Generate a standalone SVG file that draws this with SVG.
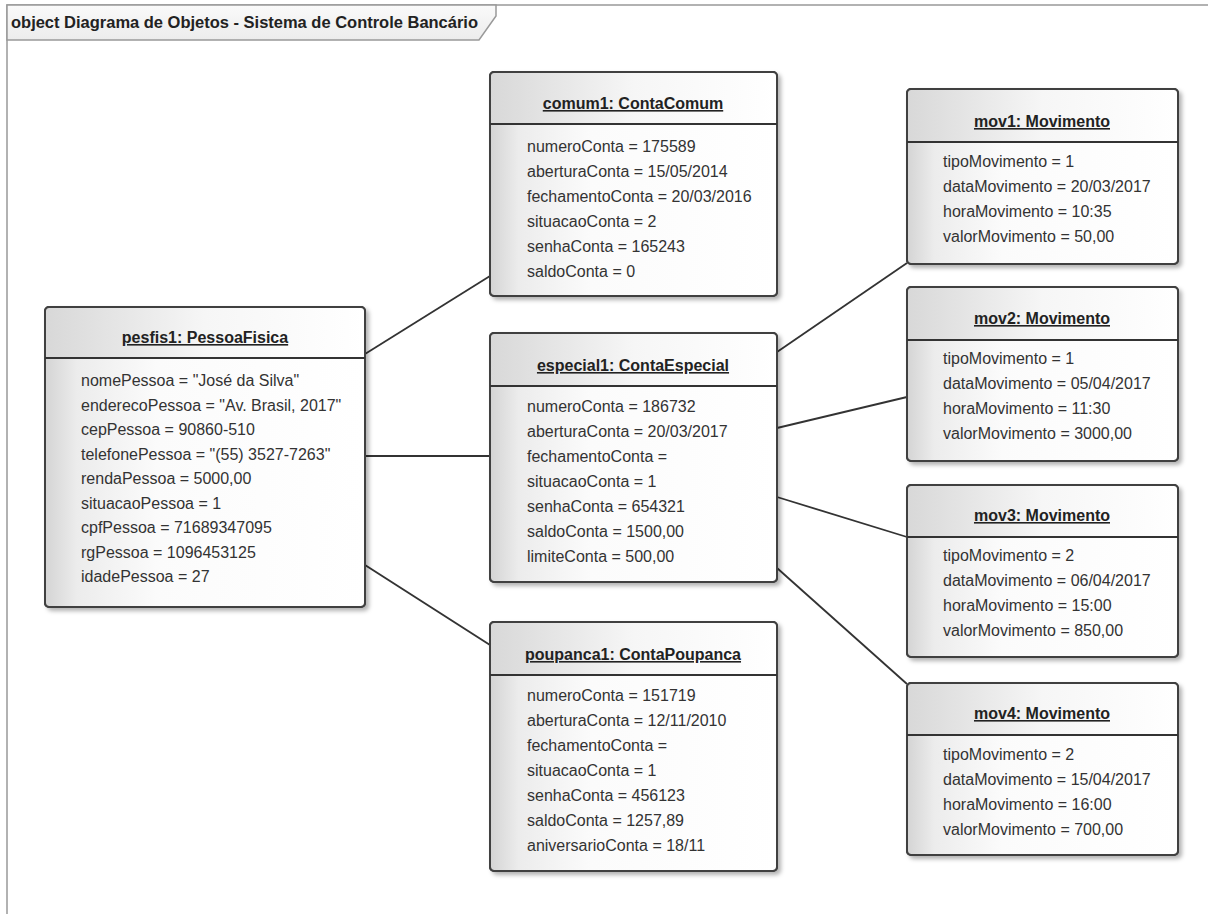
<svg xmlns="http://www.w3.org/2000/svg" width="1208" height="914" viewBox="0 0 1208 914">
<defs>
<linearGradient id="g" x1="0" y1="0" x2="1" y2="0">
<stop offset="0" stop-color="#d4d4d4"/>
<stop offset="0.1" stop-color="#ececec"/>
<stop offset="0.35" stop-color="#fbfbfb"/>
<stop offset="1" stop-color="#ffffff"/>
</linearGradient>
<linearGradient id="gh" x1="0" y1="0" x2="1" y2="0">
<stop offset="0" stop-color="#d8d8d8"/>
<stop offset="0.5" stop-color="#f6f6f6"/>
<stop offset="1" stop-color="#ffffff"/>
</linearGradient>
<linearGradient id="gt" x1="0" y1="0" x2="0" y2="1">
<stop offset="0" stop-color="#fafafa"/>
<stop offset="1" stop-color="#ececec"/>
</linearGradient>
<filter id="sh" x="-5%" y="-5%" width="115%" height="115%">
<feDropShadow dx="3" dy="3" stdDeviation="2" flood-color="#000" flood-opacity="0.3"/>
</filter>
</defs>
<style>
.box{fill:url(#g);stroke:#444;stroke-width:2;filter:url(#sh)}
.hd{fill:url(#gh);stroke:none}
.ol{fill:none;stroke:#404040;stroke-width:2}
.dv{stroke:#333;stroke-width:2}
.t{font-family:"Liberation Sans",Arial,sans-serif;font-size:16px;font-weight:bold;fill:#222;text-anchor:middle;text-decoration:underline}
.a{font-family:"Liberation Sans",Arial,sans-serif;font-size:16px;fill:#333}
.c{stroke:#333;stroke-width:1.8;fill:none}
.fr{fill:none;stroke:#999;stroke-width:1.5}
.tab{font-family:"Liberation Sans",Arial,sans-serif;font-size:16px;font-weight:bold;fill:#222}
</style>
<rect x="0" y="0" width="1208" height="914" fill="#fff"/>

<g id="frame">
<path class="fr" d="M7,914 L7,5 L1208,5"/>
<path d="M7,5 L496,5 L496,16 L479,40 L7,40 Z" fill="url(#gt)" stroke="#999" stroke-width="1.5"/>
<text class="tab" x="11" y="28" textLength="467" lengthAdjust="spacingAndGlyphs">object Diagrama de Objetos - Sistema de Controle Bancário</text>
</g>

<g id="connectors">
<line class="c" x1="365" y1="354" x2="490" y2="276"/>
<line class="c" x1="365" y1="456" x2="490" y2="456"/>
<line class="c" x1="365" y1="565" x2="490" y2="645"/>
<line class="c" x1="777" y1="352" x2="907" y2="263"/>
<line class="c" x1="777" y1="428" x2="907" y2="397"/>
<line class="c" x1="777" y1="497" x2="907" y2="537"/>
<line class="c" x1="777" y1="568" x2="907" y2="684"/>
</g>

<g id="pesfis1">
<rect class="box" x="45" y="307" width="320" height="300" rx="4"/>
<rect class="hd" x="46" y="308" width="318" height="50" rx="3"/>
<rect class="ol" x="45" y="307" width="320" height="300" rx="4"/>
<line class="dv" x1="45" y1="358" x2="365" y2="358"/>
<text class="t" x="205" y="343">pesfis1: PessoaFisica</text>
<text class="a" x="81" y="386">nomePessoa = "José da Silva"</text>
<text class="a" x="81" y="410.5">enderecoPessoa = "Av. Brasil, 2017"</text>
<text class="a" x="81" y="435">cepPessoa = 90860-510</text>
<text class="a" x="81" y="459.5">telefonePessoa = "(55) 3527-7263"</text>
<text class="a" x="81" y="484">rendaPessoa = 5000,00</text>
<text class="a" x="81" y="508.5">situacaoPessoa = 1</text>
<text class="a" x="81" y="533">cpfPessoa = 71689347095</text>
<text class="a" x="81" y="557.5">rgPessoa = 1096453125</text>
<text class="a" x="81" y="582">idadePessoa = 27</text>
</g>

<g id="comum1">
<rect class="box" x="490" y="72" width="287" height="224" rx="4"/>
<rect class="hd" x="491" y="73" width="285" height="51" rx="3"/>
<rect class="ol" x="490" y="72" width="287" height="224" rx="4"/>
<line class="dv" x1="490" y1="124" x2="777" y2="124"/>
<text class="t" x="633" y="109">comum1: ContaComum</text>
<text class="a" x="527" y="152">numeroConta = 175589</text>
<text class="a" x="527" y="177">aberturaConta = 15/05/2014</text>
<text class="a" x="527" y="202">fechamentoConta = 20/03/2016</text>
<text class="a" x="527" y="227">situacaoConta = 2</text>
<text class="a" x="527" y="252">senhaConta = 165243</text>
<text class="a" x="527" y="277">saldoConta = 0</text>
</g>

<g id="especial1">
<rect class="box" x="490" y="333" width="287" height="249" rx="4"/>
<rect class="hd" x="491" y="334" width="285" height="52" rx="3"/>
<rect class="ol" x="490" y="333" width="287" height="249" rx="4"/>
<line class="dv" x1="490" y1="386" x2="777" y2="386"/>
<text class="t" x="633" y="371">especial1: ContaEspecial</text>
<text class="a" x="527" y="412">numeroConta = 186732</text>
<text class="a" x="527" y="437">aberturaConta = 20/03/2017</text>
<text class="a" x="527" y="462">fechamentoConta =</text>
<text class="a" x="527" y="487">situacaoConta = 1</text>
<text class="a" x="527" y="512">senhaConta = 654321</text>
<text class="a" x="527" y="537">saldoConta = 1500,00</text>
<text class="a" x="527" y="562">limiteConta = 500,00</text>
</g>

<g id="poupanca1">
<rect class="box" x="490" y="622" width="287" height="249" rx="4"/>
<rect class="hd" x="491" y="623" width="285" height="52" rx="3"/>
<rect class="ol" x="490" y="622" width="287" height="249" rx="4"/>
<line class="dv" x1="490" y1="675" x2="777" y2="675"/>
<text class="t" x="633" y="660">poupanca1: ContaPoupanca</text>
<text class="a" x="527" y="701">numeroConta = 151719</text>
<text class="a" x="527" y="726">aberturaConta = 12/11/2010</text>
<text class="a" x="527" y="751">fechamentoConta =</text>
<text class="a" x="527" y="776">situacaoConta = 1</text>
<text class="a" x="527" y="801">senhaConta = 456123</text>
<text class="a" x="527" y="826">saldoConta = 1257,89</text>
<text class="a" x="527" y="851">aniversarioConta = 18/11</text>
</g>

<g id="mov1">
<rect class="box" x="907" y="89" width="271" height="175" rx="4"/>
<rect class="hd" x="908" y="90" width="269" height="52" rx="3"/>
<rect class="ol" x="907" y="89" width="271" height="175" rx="4"/>
<line class="dv" x1="907" y1="142" x2="1178" y2="142"/>
<text class="t" x="1042" y="127">mov1: Movimento</text>
<text class="a" x="943" y="167">tipoMovimento = 1</text>
<text class="a" x="943" y="192">dataMovimento = 20/03/2017</text>
<text class="a" x="943" y="217">horaMovimento = 10:35</text>
<text class="a" x="943" y="242">valorMovimento = 50,00</text>
</g>

<g id="mov2">
<rect class="box" x="907" y="287" width="271" height="174" rx="4"/>
<rect class="hd" x="908" y="288" width="269" height="52" rx="3"/>
<rect class="ol" x="907" y="287" width="271" height="174" rx="4"/>
<line class="dv" x1="907" y1="340" x2="1178" y2="340"/>
<text class="t" x="1042" y="324">mov2: Movimento</text>
<text class="a" x="943" y="364">tipoMovimento = 1</text>
<text class="a" x="943" y="389">dataMovimento = 05/04/2017</text>
<text class="a" x="943" y="414">horaMovimento = 11:30</text>
<text class="a" x="943" y="439">valorMovimento = 3000,00</text>
</g>

<g id="mov3">
<rect class="box" x="907" y="485" width="271" height="172" rx="4"/>
<rect class="hd" x="908" y="486" width="269" height="51" rx="3"/>
<rect class="ol" x="907" y="485" width="271" height="172" rx="4"/>
<line class="dv" x1="907" y1="537" x2="1178" y2="537"/>
<text class="t" x="1042" y="521">mov3: Movimento</text>
<text class="a" x="943" y="561">tipoMovimento = 2</text>
<text class="a" x="943" y="586">dataMovimento = 06/04/2017</text>
<text class="a" x="943" y="611">horaMovimento = 15:00</text>
<text class="a" x="943" y="636">valorMovimento = 850,00</text>
</g>

<g id="mov4">
<rect class="box" x="907" y="683" width="271" height="172" rx="4"/>
<rect class="hd" x="908" y="684" width="269" height="51" rx="3"/>
<rect class="ol" x="907" y="683" width="271" height="172" rx="4"/>
<line class="dv" x1="907" y1="735" x2="1178" y2="735"/>
<text class="t" x="1042" y="719">mov4: Movimento</text>
<text class="a" x="943" y="760">tipoMovimento = 2</text>
<text class="a" x="943" y="785">dataMovimento = 15/04/2017</text>
<text class="a" x="943" y="810">horaMovimento = 16:00</text>
<text class="a" x="943" y="835">valorMovimento = 700,00</text>
</g>
</svg>
